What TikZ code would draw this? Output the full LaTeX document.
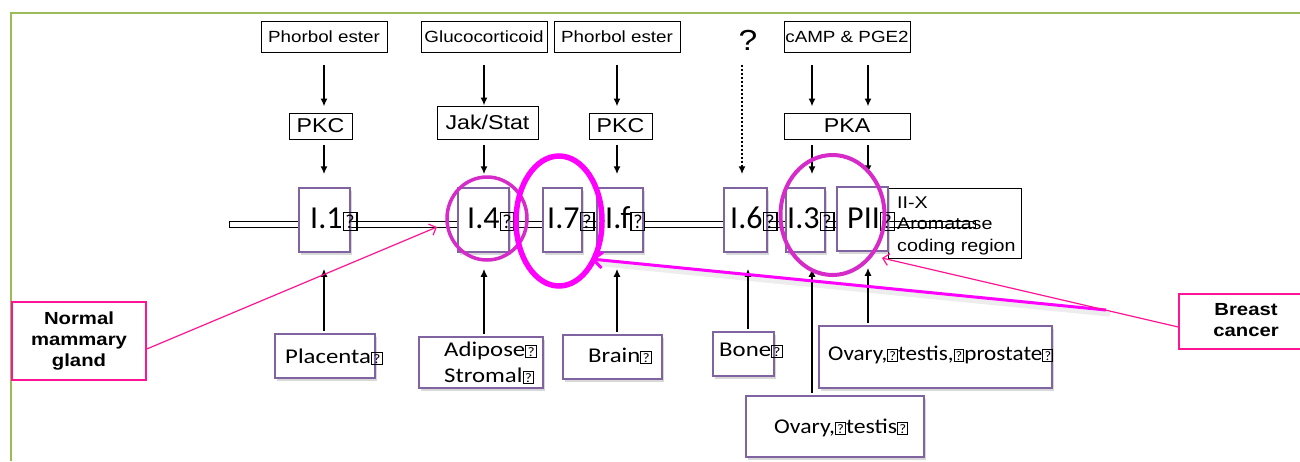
\documentclass[tikz,border=0pt]{standalone}
\usepackage{fontspec}
\usepackage{graphicx}
\setmainfont{Liberation Sans}
\newfontfamily\calfont{Carlito}
\usetikzlibrary{arrows.meta,shadows}
\definecolor{frameg}{HTML}{9BBB59}
\definecolor{exonp}{HTML}{8064A2}
\definecolor{dpink}{HTML}{FF1493}
\definecolor{circc}{HTML}{D62BC9}
\definecolor{magc}{HTML}{FF00FF}
\newcommand\qb{{\setlength\fboxsep{0.05em}\setlength\fboxrule{0.04em}\fbox{\scalebox{0.62}{?}}}}
\newcommand\sx[1]{\scalebox{1.16}[1]{#1}}
\newcommand\cx[1]{\scalebox{1.18}[1]{#1}}
\begin{document}
\begin{tikzpicture}[x=1pt,y=-1pt,
  topbox/.style={draw, line width=1pt, fill=white, inner sep=0pt, font=\fontsize{16.2}{19}\selectfont},
  kinbox/.style={draw, line width=1pt, fill=white, inner sep=0pt, font=\fontsize{20}{24}\selectfont},
  exonbox/.style={draw=exonp, line width=1.5pt, fill=white, inner sep=0pt,
     drop shadow={shadow xshift=2pt, shadow yshift=-2.5pt, opacity=0.3}},
  exonlbl/.style={inner sep=0pt, anchor=base west, font=\calfont\fontsize{32}{36}\selectfont},
  tissbox/.style={draw=exonp, line width=2pt, fill=white, inner sep=0pt,
     drop shadow={shadow xshift=2pt, shadow yshift=-3pt, opacity=0.3}},
  tisslbl/.style={inner sep=0pt, anchor=base west, font=\calfont\fontsize{21}{26}\selectfont},
  callout/.style={draw=dpink, line width=1.5pt, fill=white, inner sep=0pt, align=center,
     font=\bfseries\fontsize{17.5}{21}\selectfont},
  arr/.style={-{Latex[length=8pt,width=7pt]}, line width=1.8pt},
  pinkarr/.style={dpink, line width=1.2pt, -{Straight Barb[length=6pt,width=12pt]}},
  magarr/.style={magc, line width=3pt, -{Straight Barb[length=9pt,width=16pt]}},
  hl/.style={circc, line width=3.5pt}]
\useasboundingbox (0,0) rectangle (1300,461);
\fill[white] (0,0) rectangle (1300,461);
\draw[frameg, line width=2pt] (10.5,461) -- (10.5,12.5) -- (1300,12.5);

% gene line
\node[draw, fill=white, line width=0.8pt, inner sep=0pt, minimum width=746pt, minimum height=6pt] (gene) at (602,224) {};

% coding region box
\node[draw, line width=1pt, inner sep=0pt, minimum width=133pt, minimum height=70pt] (coding) at (954.5,223) {};
\node[inner sep=0pt, anchor=base west, font=\fontsize{17}{21.5}\selectfont] (codingT) at (897,208)
  {\sx{\begin{tabular}[t]{@{}l@{}}II-X\\Aromatase\\coding region\end{tabular}}};

% exons
\node[exonbox, minimum width=51pt, minimum height=64pt] (e1) at (324.5,220) {};
\node[exonbox, minimum width=51pt, minimum height=64pt] (e4) at (483.5,220) {};
\node[exonbox, minimum width=39pt, minimum height=64pt] (e7) at (562.5,220) {};
\node[exonbox, minimum width=46pt, minimum height=64pt] (ef) at (620,220) {};
\node[exonbox, minimum width=43pt, minimum height=64pt] (e6) at (745.5,220) {};
\node[exonbox, minimum width=39pt, minimum height=64pt] (e3) at (805.5,220) {};
\node[exonbox, minimum width=51pt, minimum height=64pt] (ep) at (862.5,219) {};
\node[exonlbl] (l1) at (310,228) {I.1\qb};
\node[exonlbl] (l4) at (467,228) {I.4\qb};
\node[exonlbl] (l7) at (547,228) {I.7\qb};
\node[exonlbl] (lf) at (605,228) {I.f\qb};
\node[exonlbl] (l6) at (730,228) {I.6\qb};
\node[exonlbl] (l3) at (787,228) {I.3\qb};
\node[exonlbl] (lp) at (847,228) {PII\qb};

% top boxes
\node[topbox, minimum width=126pt, minimum height=31pt] (pe1) at (324,36.5) {\sx{Phorbol ester}};
\node[topbox, minimum width=126pt, minimum height=31pt] (gluc) at (484,36.5) {\sx{Glucocorticoid}};
\node[topbox, minimum width=126pt, minimum height=31pt] (pe2) at (617,36.5) {\sx{Phorbol ester}};
\node[topbox, minimum width=126pt, minimum height=31pt] (camp) at (847,36.5) {\sx{cAMP \& PGE2}};
\node[inner sep=0pt, font=\fontsize{29}{34}\selectfont] (q) at (748,40.5) {\sx{?}};
\node[kinbox, minimum width=63pt, minimum height=26pt] (pkc1) at (320.5,126) {\sx{PKC}};
\node[kinbox, minimum width=101pt, minimum height=33pt] (jak) at (487.5,122.5) {\sx{Jak/Stat}};
\node[kinbox, minimum width=63pt, minimum height=26pt] (pkc2) at (620.5,126) {\sx{PKC}};
\node[kinbox, minimum width=126pt, minimum height=26pt] (pka) at (847,126) {\sx{PKA}};

% top arrows
\draw[arr, shorten <=12pt, shorten >=6pt] (pe1.south) -- (pe1.south |- pkc1.north);
\draw[arr, shorten <=12pt, shorten >=0pt] (gluc.south) -- (gluc.south |- jak.north);
\draw[arr, shorten <=12pt, shorten >=6pt] (pe2.south) -- (pe2.south |- pkc2.north);
\draw[arr, shorten <=12pt, shorten >=6pt] ([xshift=-35pt]camp.south) -- ([xshift=-35pt]camp.south |- pka.north);
\draw[arr, shorten <=12pt, shorten >=6pt] ([xshift=21pt]camp.south) -- ([xshift=21pt]camp.south |- pka.north);
% middle arrows
\draw[arr, shorten <=5pt, shorten >=13pt] (pe1.south |- pkc1.south) -- (pe1.south |- e1.north);
\draw[arr, shorten <=5pt, shorten >=13pt] (gluc.south |- jak.south) -- (gluc.south |- e4.north);
\draw[arr, shorten <=5pt, shorten >=13pt] (pe2.south |- pkc2.south) -- (pe2.south |- ef.north);
\draw[arr, dash pattern=on 2pt off 2pt, shorten <=12pt, shorten >=13pt] ([xshift=-6pt]q.south |- pe2.south) -- ([xshift=-6pt]q.south |- e6.north);
\draw[arr, shorten <=5pt, shorten >=13pt] ([xshift=-35pt]camp.south |- pka.south) -- ([xshift=-35pt]camp.south |- e3.north);
\draw[arr, shorten <=5pt, shorten >=13pt] ([xshift=21pt]camp.south |- pka.south) -- ([xshift=21pt]camp.south |- ep.north);

% tissue boxes
\node[tissbox, minimum width=100pt, minimum height=44pt] (plac) at (325,356) {};
\node[tissbox, minimum width=124pt, minimum height=51pt] (adip) at (481,362.5) {};
\node[tissbox, minimum width=99pt, minimum height=44pt] (brain) at (612.5,357) {};
\node[tissbox, minimum width=61pt, minimum height=44pt] (bone) at (743.5,354) {};
\node[tissbox, minimum width=233pt, minimum height=62pt] (otp) at (935.5,357) {};
\node[tissbox, minimum width=178pt, minimum height=61pt] (ot) at (835,426.5) {};
\node[tisslbl] (placT) at (285,363) {\cx{Placenta\qb}};
\node[tisslbl] (adipT) at (444,356) {\cx{\begin{tabular}[t]{@{}l@{}}Adipose\qb\\Stromal\qb\end{tabular}}};
\node[tisslbl] (brainT) at (588,362) {\cx{Brain\qb}};
\node[tisslbl] (boneT) at (719,356) {\cx{Bone\qb}};
\node[tisslbl] (otpT) at (828,360) {\scalebox{1.1}[1]{Ovary,\qb testis,\qb prostate\qb}};
\node[tisslbl] (otT) at (774,433) {\scalebox{1.13}[1]{Ovary,\qb testis\qb}};

% bottom arrows
\draw[arr, shorten <=2pt, shorten >=16pt] (pe1.south |- plac.north) -- (pe1.south |- e1.south);
\draw[arr, shorten <=2pt, shorten >=16pt] (gluc.south |- adip.north) -- (gluc.south |- e4.south);
\draw[arr, shorten <=2pt, shorten >=16pt] (pe2.south |- brain.north) -- (pe2.south |- ef.south);
\draw[arr, shorten <=2pt, shorten >=16pt] (q.south |- bone.north) -- (q.south |- e6.south);
\draw[arr, shorten <=2pt, shorten >=16pt] ([xshift=21pt]camp.south |- otp.north) -- ([xshift=21pt]camp.south |- ep.south);
\draw[arr, shorten <=2pt, shorten >=16pt] ([xshift=-35pt]camp.south |- ot.north) -- ([xshift=-35pt]camp.south |- e3.south);

% highlights
\draw[hl] (487,218.5) ellipse [x radius=40pt, y radius=41.5pt];
\draw[magc, line width=5.5pt] (559,221) ellipse [x radius=43pt, y radius=65pt];
\draw[hl, line width=4pt] (832.5,215) ellipse [x radius=52pt, y radius=60pt];

% callouts
\node[callout, minimum width=134pt, minimum height=78pt] (nmg) at (79,341) {\sx{\begin{tabular}{@{}c@{}}Normal\\mammary\\gland\end{tabular}}};
\node[callout, minimum width=134pt, minimum height=55pt] (bc) at (1246,321.5) {\sx{\begin{tabular}{@{}c@{}}Breast\\cancer\end{tabular}}};
\coordinate (nmtip) at (437,227);
\coordinate (bctip) at (882,258);
\coordinate (thstart) at (1106,310);
\coordinate (thtip) at (591,259);
\draw[black, opacity=0.07, line width=5pt, line cap=round] ([xshift=2pt,yshift=-4pt]thstart) -- ([xshift=2pt,yshift=-4pt]thtip);
\draw[magarr] (thstart) -- (thtip);
\draw[pinkarr] ([yshift=-8pt]nmg.east) -- (nmtip);
\draw[pinkarr] ([yshift=-5.5pt]bc.west) -- (bctip);
\end{tikzpicture}
\end{document}
